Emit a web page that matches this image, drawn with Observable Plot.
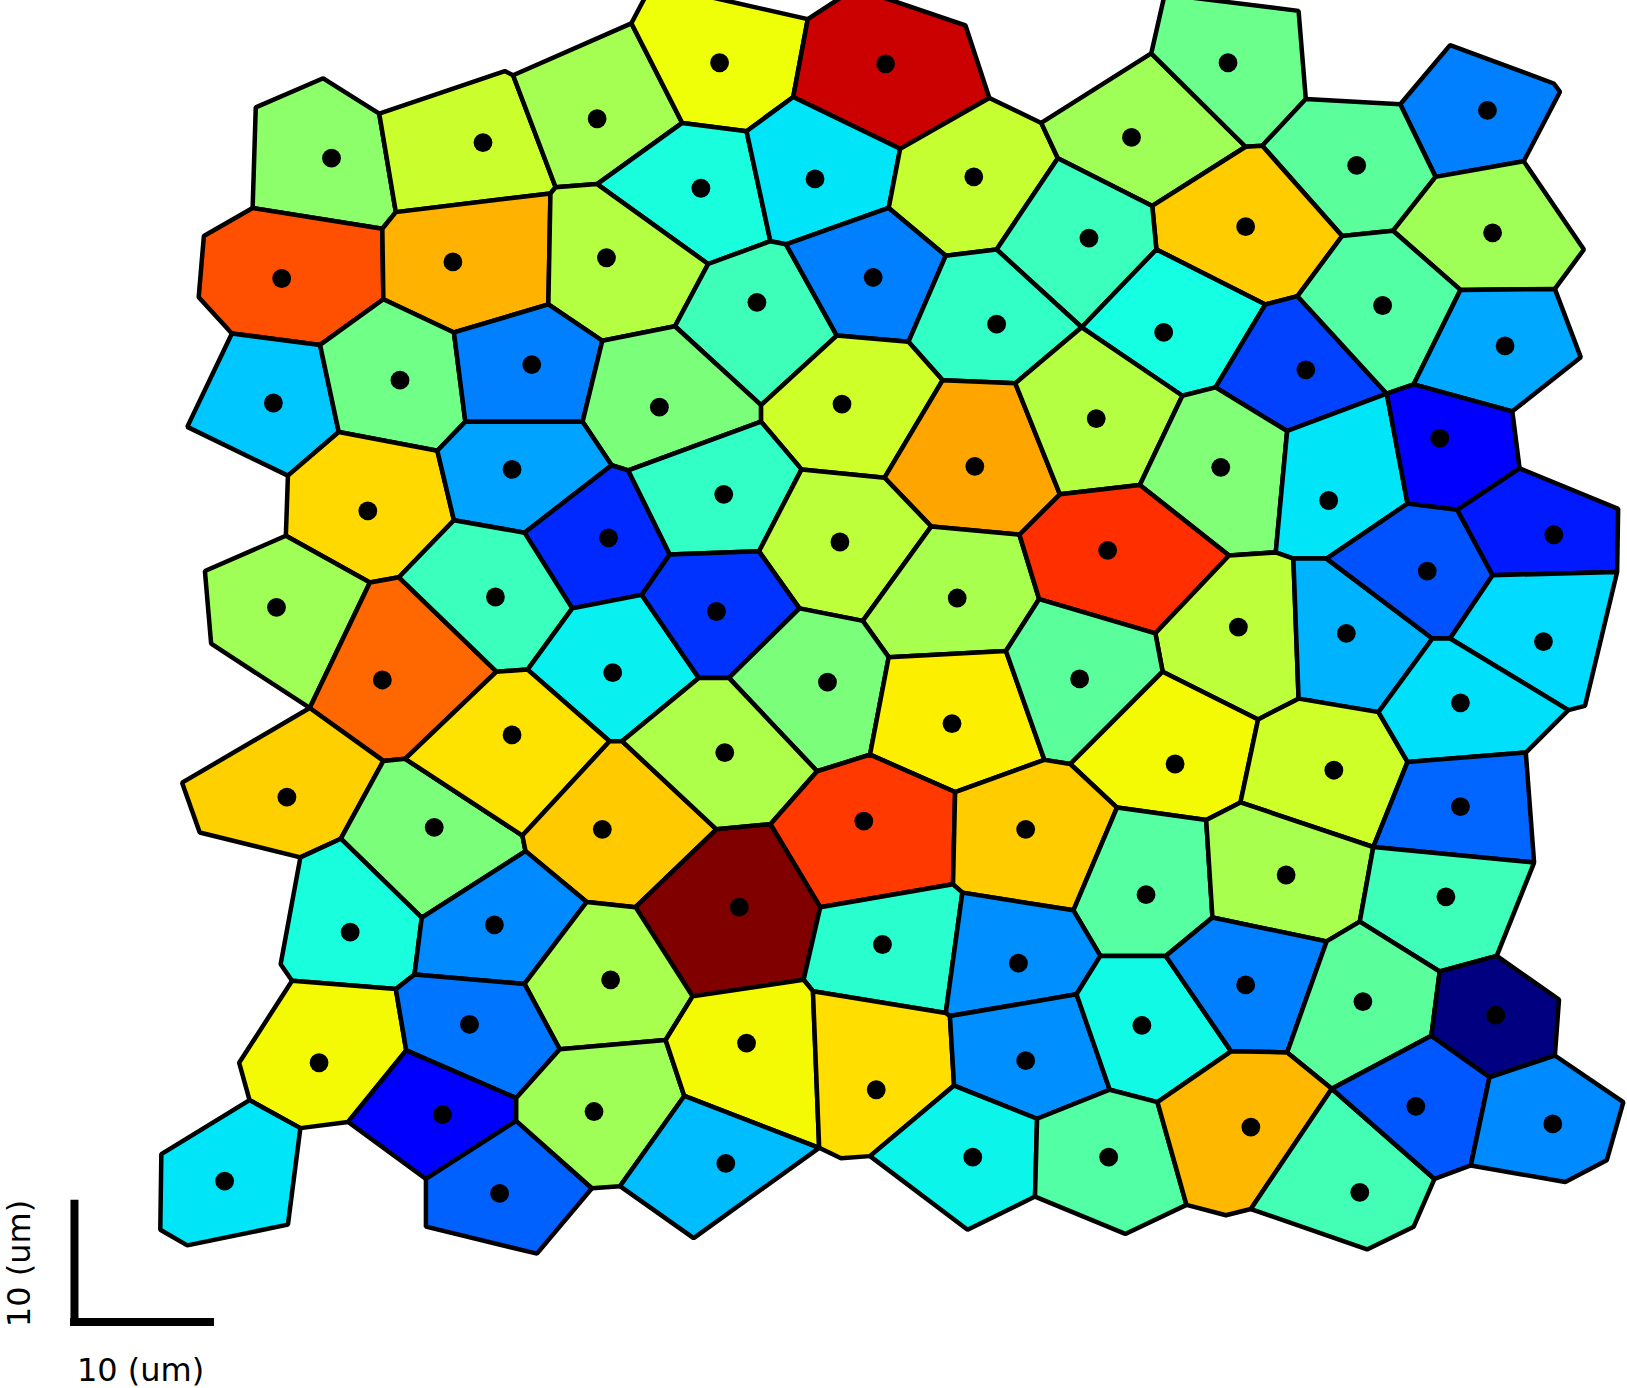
<!DOCTYPE html>
<html><head><meta charset="utf-8">
<script src="https://cdn.jsdelivr.net/npm/d3@7"></script>
<script src="https://cdn.jsdelivr.net/npm/@observablehq/plot@0.6"></script>
<style>body{margin:0;background:#fff}</style>
</head><body><div id="chart"></div>
<script>
// Cell centres (figure units), cell value (0..1, jet colormap), cell outlines (flat x,y lists)
const cellX = [319,465,575,693,853,675,785,938,1090,1183,1433,1307,1200,1049,1438,
  271,436,584,729,841,960,1121,1258,1332,1450,263,385,512,635,811,939,1056,1176,1280,1387,
  354,493,586,697,809,922,1067,1193,1297,1375,1497,1487,266,368,477,590,690,797,917,1040,1132,1285,1407,
  276,418,493,580,698,832,988,1104,1239,1407,1393,712,850,981,
  337,476,588,307,452,426,481,216,572,719,699,844,988,1100,1200,1313,1441,937,1068,1205,1310,1364,1496];
const cellY = [152,137,114,60,61,181,172,170,132,60,106,159,218,229,224,
  268,252,248,291,267,312,320,356,294,333,388,366,351,392,389,449,403,450,482,422,
  492,452,518,476,522,576,530,604,610,550,515,618,585,655,575,648,589,657,697,654,736,742,677,
  768,797,708,799,725,791,799,862,843,777,864,874,910,928,
  898,891,944,1024,987,1074,1150,1138,1071,1005,1121,1050,1022,988,949,965,978,1115,1115,1086,1149,1066,1083];
const cellValue = [0.52,0.595,0.55,0.64,0.935,0.38,0.35,0.59,0.545,0.48,0.25,0.46,0.694,0.42,0.545,
  0.826,0.72,0.57,0.425,0.25,0.41,0.375,0.19,0.45,0.29,0.32,0.486,0.25,0.5,0.6,0.735,0.57,0.505,0.35,0.125,
  0.68,0.285,0.165,0.41,0.58,0.555,0.86,0.58,0.30,0.205,0.15,0.34,0.545,0.80,0.42,0.36,0.175,0.5,0.656,0.46,0.645,0.6,0.345,
  0.69,0.5,0.67,0.695,0.56,0.85,0.694,0.453,0.555,0.225,0.425,1.0,0.40,0.265,
  0.38,0.26,0.555,0.645,0.24,0.12,0.22,0.35,0.545,0.645,0.31,0.675,0.265,0.37,0.25,0.46,0.0,0.365,0.45,0.715,0.43,0.21,0.26];
const cellOutlines = [
  [246,103, 311,75, 365,109, 381,204, 368,220, 243,200],
  [365,109, 486,68, 494,72, 535,180, 530,186, 381,204],
  [494,72, 608,22, 657,118, 575,177, 535,180],
  [608,22, 628,-16, 778,18, 764,93, 719,126, 657,118],
  [778,18, 824,-12, 930,24, 953,94, 867,143, 764,93],
  [575,177, 657,118, 719,126, 742,232, 682,254],
  [719,126, 764,93, 867,143, 856,200, 757,235, 742,232],
  [867,143, 953,94, 1003,118, 1019,152, 960,240, 911,246, 856,200],
  [1003,118, 1109,51, 1200,141, 1110,198, 1019,152],
  [1109,51, 1122,-6, 1251,10, 1258,95, 1216,140, 1200,141],
  [1349,100, 1397,43, 1497,80, 1503,88, 1468,155, 1383,170],
  [1258,95, 1349,100, 1383,170, 1342,222, 1293,227, 1216,140],
  [1110,198, 1200,141, 1216,140, 1293,227, 1250,285, 1219,293, 1114,240],
  [1019,152, 1110,198, 1114,240, 1042,315, 960,240],
  [1383,170, 1468,155, 1526,240, 1498,278, 1407,279, 1342,222],
  [243,200, 368,220, 369,288, 308,332, 223,321, 191,286, 196,227],
  [368,220, 381,204, 530,186, 528,293, 437,320, 369,288],
  [530,186, 535,180, 575,177, 682,254, 650,314, 580,328, 528,293],
  [682,254, 742,232, 757,235, 806,323, 733,390, 650,314],
  [757,235, 856,200, 911,246, 875,329, 806,323],
  [911,246, 960,240, 1042,315, 978,369, 908,366, 875,329],
  [1042,315, 1114,240, 1219,293, 1171,373, 1139,381],
  [1219,293, 1250,285, 1336,379, 1240,415, 1171,373],
  [1250,285, 1293,227, 1342,222, 1407,279, 1362,370, 1336,379],
  [1407,279, 1498,278, 1523,344, 1457,396, 1362,370],
  [223,321, 308,332, 326,416, 277,458, 180,411],
  [308,332, 369,288, 437,320, 448,406, 421,434, 326,416],
  [437,320, 528,293, 580,328, 561,406, 448,406],
  [580,328, 650,314, 733,390, 733,406, 605,453, 589,448, 561,406],
  [733,390, 806,323, 875,329, 908,366, 852,460, 772,452, 733,406],
  [908,366, 978,369, 1021,476, 982,515, 897,507, 852,460],
  [978,369, 1042,315, 1139,381, 1098,467, 1021,476],
  [1139,381, 1171,373, 1240,415, 1229,532, 1184,535, 1098,467],
  [1240,415, 1336,379, 1356,485, 1278,538, 1246,538, 1229,532],
  [1336,379, 1362,370, 1457,396, 1464,451, 1404,491, 1356,485],
  [277,458, 326,416, 421,434, 437,501, 384,556, 356,561, 275,516],
  [421,434, 448,406, 561,406, 589,448, 505,513, 437,501],
  [505,513, 589,448, 605,453, 645,534, 618,573, 551,586],
  [605,453, 733,406, 772,452, 731,531, 645,534],
  [772,452, 852,460, 897,507, 831,598, 770,586, 731,531],
  [897,507, 982,515, 1001,577, 969,627, 856,633, 831,598],
  [982,515, 1021,476, 1098,467, 1184,535, 1113,610, 1001,577],
  [1113,610, 1184,535, 1229,532, 1246,538, 1251,673, 1212,693, 1120,647],
  [1246,538, 1278,538, 1380,615, 1328,686, 1251,673],
  [1278,538, 1356,485, 1404,491, 1438,554, 1397,615, 1380,615],
  [1404,491, 1464,451, 1559,490, 1558,551, 1438,554],
  [1438,554, 1558,551, 1527,680, 1511,684, 1397,615],
  [197,550, 275,516, 356,561, 298,682, 203,620],
  [356,561, 384,556, 478,647, 390,731, 369,733, 298,682],
  [384,556, 437,501, 505,513, 551,586, 508,645, 478,647],
  [551,586, 618,573, 673,653, 599,714, 587,714, 508,645],
  [618,573, 645,534, 731,531, 770,586, 702,653, 673,653],
  [770,586, 831,598, 856,633, 838,727, 787,743, 702,653],
  [856,633, 969,627, 1006,732, 920,763, 838,727],
  [969,627, 1001,577, 1113,610, 1120,647, 1031,736, 1006,732],
  [1031,736, 1120,647, 1212,693, 1195,773, 1162,790, 1076,778],
  [1212,693, 1251,673, 1328,686, 1356,734, 1323,816, 1195,773],
  [1328,686, 1380,615, 1397,615, 1511,684, 1470,725, 1356,734],
  [175,754, 298,682, 369,733, 328,808, 289,826, 192,802],
  [369,733, 390,731, 503,805, 506,820, 406,884, 328,808],
  [390,731, 478,647, 508,645, 587,714, 503,805],
  [503,805, 587,714, 599,714, 690,799, 612,874, 565,869, 506,820],
  [599,714, 673,653, 702,653, 787,743, 742,794, 690,799],
  [742,794, 787,743, 838,727, 920,763, 918,852, 790,874],
  [920,763, 1006,732, 1031,736, 1076,778, 1034,877, 927,860, 918,852],
  [1034,877, 1076,778, 1162,790, 1168,884, 1123,921, 1060,921],
  [1162,790, 1195,773, 1323,816, 1310,888, 1278,907, 1168,884],
  [1323,816, 1356,734, 1470,725, 1478,831],
  [1323,816, 1478,831, 1442,921, 1387,936, 1310,888],
  [612,874, 690,799, 742,794, 790,874, 774,944, 667,960],
  [790,874, 918,852, 927,860, 911,976, 783,955, 774,944],
  [927,860, 1034,877, 1060,921, 1037,958, 915,979, 911,976],
  [289,826, 328,808, 406,884, 399,939, 381,953, 281,945, 270,929],
  [406,884, 506,820, 565,869, 505,948, 399,939],
  [505,948, 565,869, 612,874, 667,960, 641,1002, 539,1011],
  [230,1024, 281,945, 381,953, 391,1012, 335,1081, 289,1087, 240,1060],
  [381,953, 399,939, 505,948, 539,1011, 497,1058, 391,1012],
  [335,1081, 391,1012, 497,1058, 497,1080, 410,1136],
  [410,1136, 497,1080, 570,1145, 517,1208, 410,1182],
  [155,1112, 240,1060, 289,1087, 277,1180, 180,1200, 154,1185],
  [497,1058, 539,1011, 641,1002, 659,1056, 597,1143, 570,1145, 497,1080],
  [641,1002, 667,960, 774,944, 783,955, 789,1106, 659,1056],
  [597,1143, 659,1056, 789,1106, 668,1193],
  [783,955, 911,976, 915,979, 919,1046, 838,1114, 810,1116, 789,1106],
  [915,979, 1037,958, 1069,1050, 999,1078, 919,1046],
  [1037,958, 1060,921, 1123,921, 1186,1013, 1115,1062, 1069,1050],
  [1123,921, 1168,884, 1278,907, 1240,1014, 1186,1013],
  [1278,907, 1310,888, 1387,936, 1379,998, 1283,1049, 1240,1014],
  [1387,936, 1442,921, 1502,963, 1498,1017, 1435,1038, 1379,998],
  [838,1114, 919,1046, 999,1078, 997,1153, 932,1185],
  [999,1078, 1069,1050, 1115,1062, 1143,1161, 1084,1189, 997,1153],
  [1115,1062, 1186,1013, 1240,1014, 1283,1049, 1205,1165, 1181,1171, 1143,1161],
  [1205,1165, 1283,1049, 1382,1136, 1362,1182, 1317,1204],
  [1283,1049, 1379,998, 1435,1038, 1417,1123, 1382,1136],
  [1435,1038, 1498,1017, 1564,1062, 1548,1118, 1508,1139, 1417,1123]
];
// scale bar
const scaleBarUm = 10;
const unitsPerUmX = 13.87, unitsPerUmY = 12.15;
const scaleBarOrigin = {x: 71.3, y: 1278, xh: 67.5, yh: 1274};
const scaleLabel = "10 (um)";

// matplotlib jet
const jetData = {
  r: [[0,0],[0.35,0],[0.66,1],[0.89,1],[1,0.5]],
  g: [[0,0],[0.125,0],[0.375,1],[0.64,1],[0.91,0],[1,0]],
  b: [[0,0.5],[0.11,1],[0.34,1],[0.65,0],[1,0]]
};
function seg(pts, t) {
  t = Math.max(0, Math.min(1, t));
  for (let i = 1; i < pts.length; i++) {
    if (t <= pts[i][0]) {
      const [x0, y0] = pts[i-1], [x1, y1] = pts[i];
      return y0 + (y1 - y0) * (t - x0) / (x1 - x0);
    }
  }
  return pts[pts.length-1][1];
}
const jet = t => d3.rgb(255*seg(jetData.r,t), 255*seg(jetData.g,t), 255*seg(jetData.b,t)).formatHex();

const vertices = cellOutlines.flatMap((o, i) => {
  const pts = [];
  for (let k = 0; k < o.length; k += 2) pts.push({cell: i, x: o[k], y: o[k+1], value: cellValue[i]});
  return pts;
});
const centers = cellX.map((x, i) => ({x, y: cellY[i]}));

const chart = Plot.plot({
  width: 1627, height: 1388, margin: 0,
  x: {domain: [0, 1568], range: [0, 1627], axis: null},
  y: {domain: [0, 1338], range: [0, 1388], axis: null},
  color: {type: "linear", domain: [0, 1], interpolate: jet},
  style: {fontFamily: "DejaVu Sans", background: "white", overflow: "visible"},
  marks: [
    Plot.line(vertices, {x: "x", y: "y", z: "cell", fill: "value", stroke: "black",
      strokeWidth: 4.5, curve: "linear-closed", strokeLinejoin: "miter", clip: true}),
    Plot.dot(centers, {x: "x", y: "y", r: 9.4, fill: "black"}),
    Plot.ruleX([scaleBarOrigin.x], {y1: scaleBarOrigin.y - scaleBarUm*unitsPerUmY, y2: scaleBarOrigin.y, stroke: "black", strokeWidth: 8}),
    Plot.ruleY([scaleBarOrigin.yh], {x1: scaleBarOrigin.xh, x2: scaleBarOrigin.xh + scaleBarUm*unitsPerUmX, stroke: "black", strokeWidth: 8}),
    Plot.text([scaleLabel], {x: 135, y: 1321, text: d => d, fontSize: 32, textAnchor: "middle", lineAnchor: "middle", fill: "black"}),
    Plot.text([scaleLabel], {x: 18.8, y: 1217.5, text: d => d, fontSize: 32, textAnchor: "middle", lineAnchor: "middle", rotate: -90, fill: "black"})
  ]
});
document.getElementById("chart").appendChild(chart);
</script>
</body></html>
